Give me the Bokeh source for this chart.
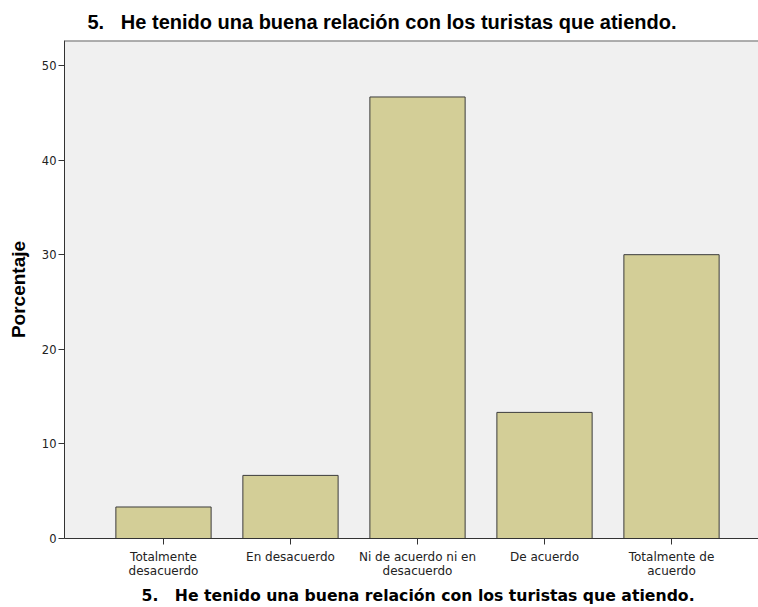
from bokeh.plotting import figure
from bokeh.models import Span, FixedTicker, Range1d, Title
from bokeh.embed import file_html
from bokeh.resources import INLINE

categories = ["Totalmente\ndesacuerdo", "En desacuerdo", "Ni de acuerdo ni en\ndesacuerdo",
              "De acuerdo", "Totalmente de\nacuerdo"]
percentages = [3.33, 6.67, 46.67, 13.33, 30.00]
y_ticks = [0, 10, 20, 30, 40, 50]
NB = "\u00a0"
title_text = "5." + NB * 3 + "He tenido una buena relación con los turistas que atiendo."
y_label = "Porcentaje"

positions = list(range(1, len(categories) + 1))
Y_MAX = 52.64
X_START, X_END = 0.2205, 5.685

p = figure(width=758, height=607, output_backend="svg", toolbar_location=None,
           x_range=Range1d(X_START, X_END), y_range=Range1d(0, Y_MAX),
           min_border_left=64, min_border_right=0, min_border_top=40, min_border_bottom=69)

p.background_fill_color = "#f0f0f0"
p.border_fill_color = "white"
p.outline_line_color = None
p.xgrid.grid_line_color = None
p.ygrid.grid_line_color = None

p.vbar(x=positions, top=percentages, bottom=0, width=0.75,
       fill_color="#d3ce97", line_color="#3c3c3c", line_width=1)

p.add_layout(Span(location=Y_MAX, dimension="width", line_color="#666666", line_width=2))

xa = p.xaxis[0]
xa.ticker = FixedTicker(ticks=positions)
xa.major_label_overrides = {pos: lab for pos, lab in zip(positions, categories)}
xa.major_tick_in = 0
xa.major_tick_out = 6
xa.minor_tick_line_color = None
xa.axis_line_color = "#333333"
xa.major_tick_line_color = "#333333"
xa.major_label_text_font = "DejaVu Sans"
xa.major_label_text_font_size = "12px"
xa.major_label_text_color = "#222222"
xa.major_label_text_line_height = 1.0
xa.major_label_standoff = 5

ya = p.yaxis[0]
ya.ticker = FixedTicker(ticks=y_ticks)
ya.major_tick_in = 0
ya.major_tick_out = 6
ya.minor_tick_line_color = None
ya.axis_line_color = "#333333"
ya.major_tick_line_color = "#333333"
ya.major_label_text_font = "DejaVu Sans"
ya.major_label_text_font_size = "11.5px"
ya.major_label_text_color = "#222222"
ya.major_label_standoff = 2
ya.axis_label = y_label
ya.axis_label_text_font = "Liberation Sans"
ya.axis_label_text_font_style = "bold"
ya.axis_label_text_font_size = "19px"
ya.axis_label_text_color = "#000000"
ya.axis_label_standoff = 10

p.title.text = title_text
p.title.align = "left"
p.title.offset = 23
p.title.standoff = 15
p.title.text_font = "Liberation Sans"
p.title.text_font_style = "bold"
p.title.text_font_size = "20px"
p.title.text_color = "#000000"

bottom_title = Title(text=title_text, align="left", offset=77, standoff=6,
                     text_font="DejaVu Sans", text_font_style="bold",
                     text_font_size="15.7px", text_color="#000000")
p.add_layout(bottom_title, "below")

open("out.html", "w").write(file_html(p, INLINE))
